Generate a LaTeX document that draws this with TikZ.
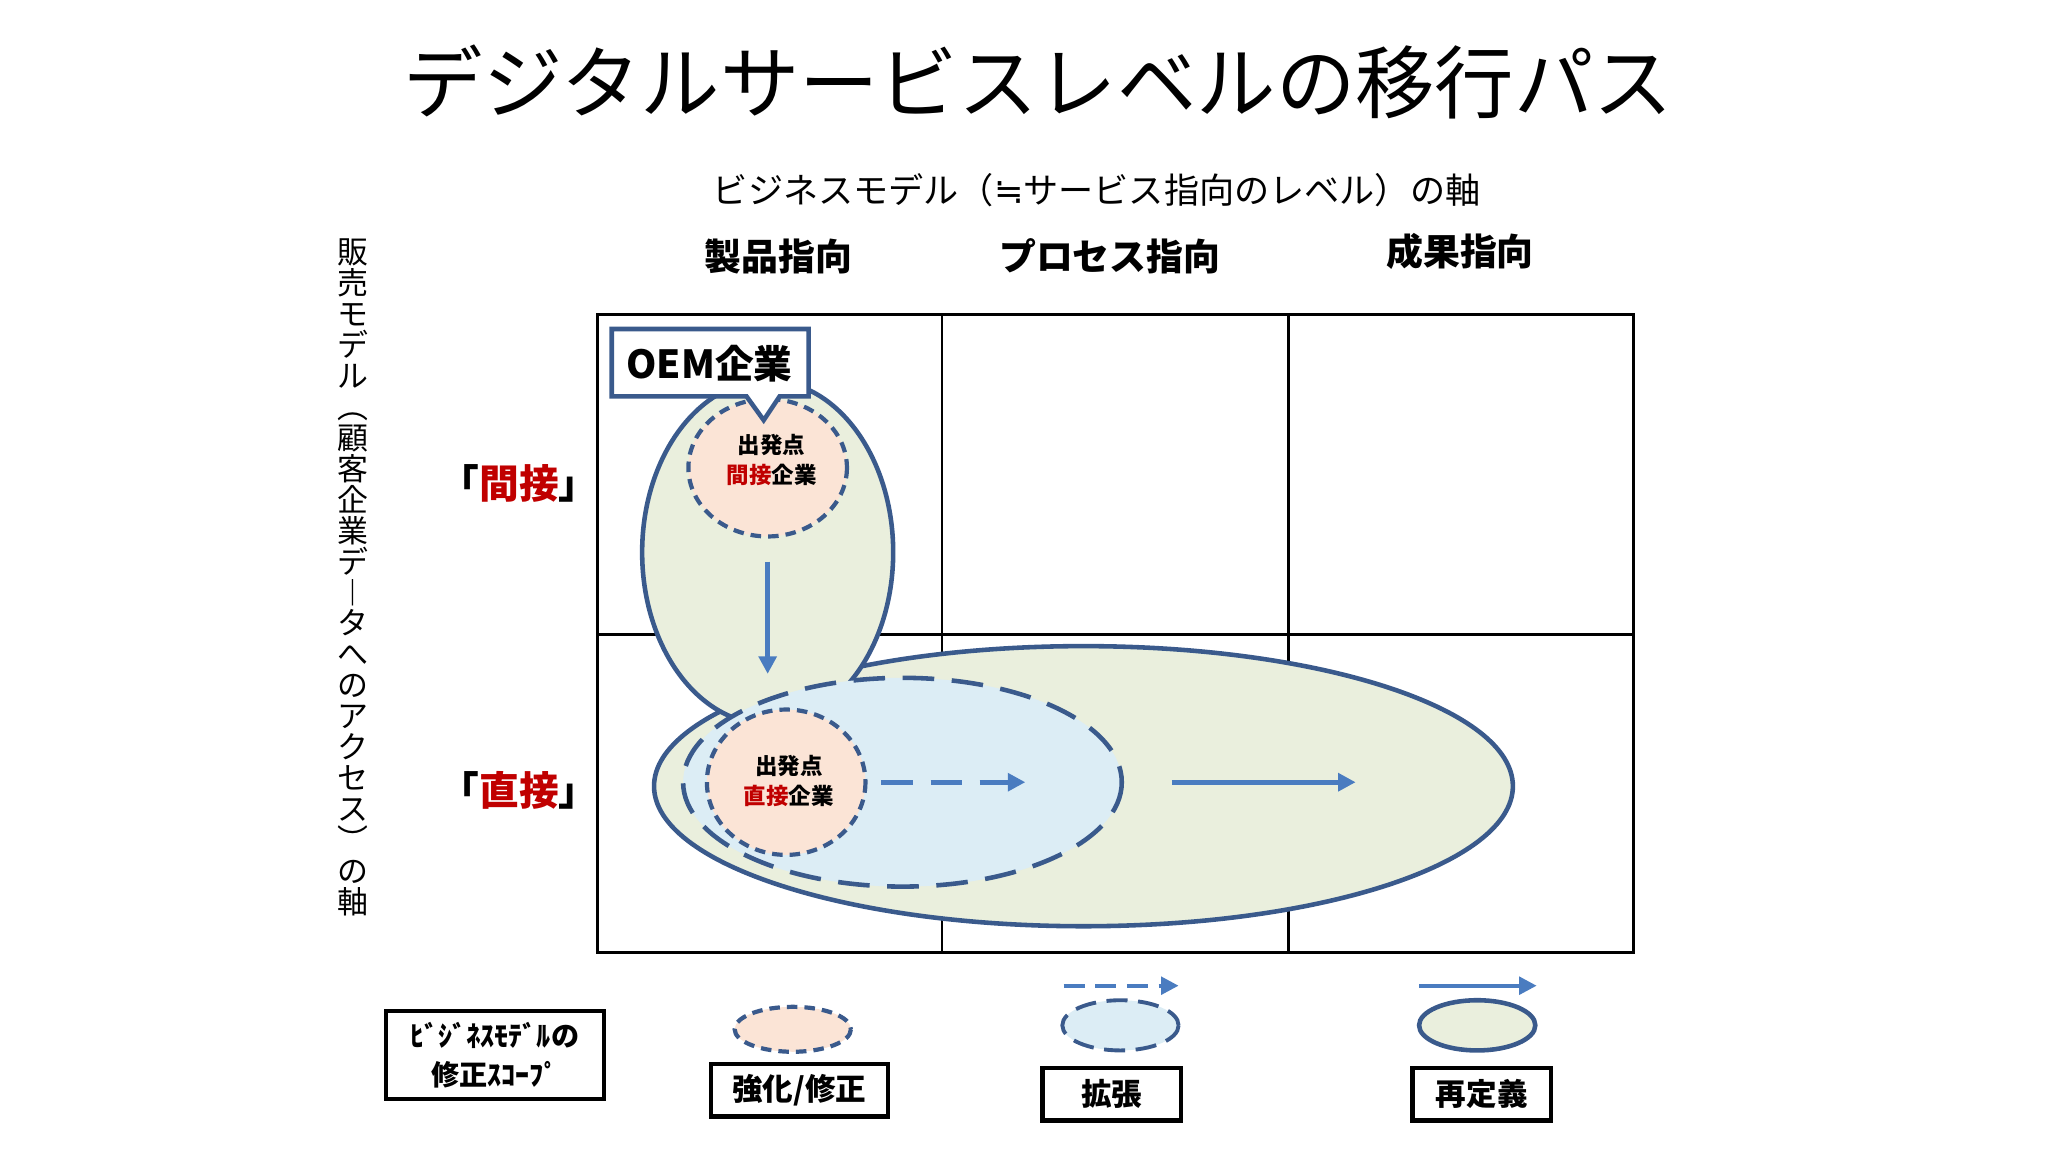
\documentclass[tikz,border=0pt]{standalone}
\usepackage{fontspec}
\setmainfont{Noto Sans CJK JP}
\newfontfamily\symfont{DejaVu Sans}
\usetikzlibrary{arrows.meta}
\definecolor{edge}{HTML}{3A5A8C}
\definecolor{arr}{HTML}{4A7CC0}
\definecolor{gfill}{HTML}{EAEFDD}
\definecolor{bfill}{HTML}{DCEDF5}
\definecolor{ofill}{HTML}{FBE4D6}
\definecolor{redt}{HTML}{C00000}
\tikzset{
  grd/.style={draw=black,line width=0.8pt},
  gell/.style={draw=edge,fill=gfill,line width=1.3pt},
  bell/.style={draw=edge,fill=bfill,line width=1.3pt,dash pattern=on 9pt off 5pt},
  oell/.style={draw=edge,fill=ofill,line width=1.2pt,dash pattern=on 3pt off 2pt},
  sarr/.style={draw=arr,line width=1.3pt,-{Triangle[length=5pt,width=5pt]}},
  darr/.style={sarr,dash pattern=on 9pt off 5pt},
  legbox/.style={draw=black,line width=1.2pt,fill=white,font=\bfseries\fontsize{8.7}{10}\selectfont,inner sep=0pt},
  lbl/.style={font=\fontsize{10}{12}\selectfont}
}
\begin{document}
\begin{tikzpicture}[x=0.013213cm,y=-0.013213cm]
\useasboundingbox (0,0) rectangle (1550,872);
\node (title) at (786,62) {\fontsize{22.6}{24}\selectfont デジタルサービスレベルの移行パス};
\node[lbl] (xaxis) at (830,144) {ビジネスモデル（{\symfont ≒}サービス指向のレベル）の軸};
\node (h1) at (589,194) {\bfseries\fontsize{10.5}{13}\selectfont 製品指向};
\node (h2) at (840,194) {\bfseries\fontsize{10.5}{13}\selectfont プロセス指向};
\node (h3) at (1105,190) {\bfseries\fontsize{10.5}{13}\selectfont 成果指向};
\node[align=center,inner sep=0pt,font=\fontsize{8.8}{8.8}\selectfont] (yaxis) at (267,437)
 {販\\売\\モ\\デ\\ル\\︵\\顧\\客\\企\\業\\デ\\︱\\タ\\へ\\の\\ア\\ク\\セ\\ス\\︶\\の\\軸};
\node (r1) at (393,366) {\bfseries\fontsize{11.3}{13}\selectfont 「\textcolor{redt}{間接}」};
\node (r2) at (393,598) {\bfseries\fontsize{11.3}{13}\selectfont 「\textcolor{redt}{直接}」};
% grid
\draw[grd] (452,238) rectangle (1236,721);
\draw[grd] (713,238) -- (713,721) (975,238) -- (975,721) (452,480) -- (1236,480);
% ellipses
\path[gell] (820,595) ellipse [x radius=325,y radius=106];
\path[gell] (581,418) ellipse [x radius=95,y radius=130];
\path[bell] (683,592) ellipse [x radius=166,y radius=79];
\path[oell] (581,354) ellipse [x radius=60,y radius=52];
\path[oell] (595,592) ellipse [x radius=60,y radius=55];
\node[align=center,font=\bfseries\fontsize{6.4}{8.5}\selectfont] (s1) at (584,348) {出発点\\\textcolor{redt}{間接}企業};
\node[align=center,font=\bfseries\fontsize{6.4}{8.5}\selectfont] (s2) at (597,591) {出発点\\\textcolor{redt}{直接}企業};
\coordinate (a1s) at (581,425); \coordinate (a1e) at (581,510);
\draw[sarr] (a1s) -- (a1e);
\coordinate (a2s) at (667,592); \coordinate (a2e) at (776,592);
\draw[darr] (a2s) -- (a2e);
\coordinate (a3s) at (887,592); \coordinate (a3e) at (1026,592);
\draw[sarr] (a3s) -- (a3e);
% callout
\draw[draw=edge,fill=white,line width=1.3pt] (463,249) -- (612,249) -- (612,300) -- (590,300) -- (578,318) -- (565,300) -- (463,300) -- cycle;
\node (oem) at (537,275) {\bfseries\fontsize{11}{13}\selectfont OEM企業};
% legend
\node[draw=black,line width=1.2pt,minimum width=165*0.013213cm,minimum height=67*0.013213cm,align=center,font=\bfseries\fontsize{8}{11}\selectfont,inner sep=0pt] (leg) at (374.5,798.5) {ﾋﾞｼﾞﾈｽﾓﾃﾞﾙの\\修正ｽｺｰﾌﾟ};
\path[oell] (600,779) ellipse [x radius=44,y radius=17];
\path[bell,line width=1.1pt,dash pattern=on 6pt off 3pt] (848,776) ellipse [x radius=44,y radius=19];
\path[gell] (1118,776) ellipse [x radius=44,y radius=19];
\coordinate (l1s) at (805,746); \coordinate (l1e) at (892,746);
\draw[darr,line width=1.1pt,dash pattern=on 6pt off 3pt] (l1s) -- (l1e);
\coordinate (l2s) at (1074,746); \coordinate (l2e) at (1163,746);
\draw[sarr,line width=1.1pt] (l2s) -- (l2e);
\node[legbox,minimum width=134*0.013213cm,minimum height=40*0.013213cm] (b1) at (605,825) {強化/修正};
\node[legbox,minimum width=105*0.013213cm,minimum height=40*0.013213cm] (b2) at (841.5,828) {拡張};
\node[legbox,minimum width=105*0.013213cm,minimum height=40*0.013213cm] (b3) at (1121.5,828) {再定義};
\end{tikzpicture}
\end{document}
